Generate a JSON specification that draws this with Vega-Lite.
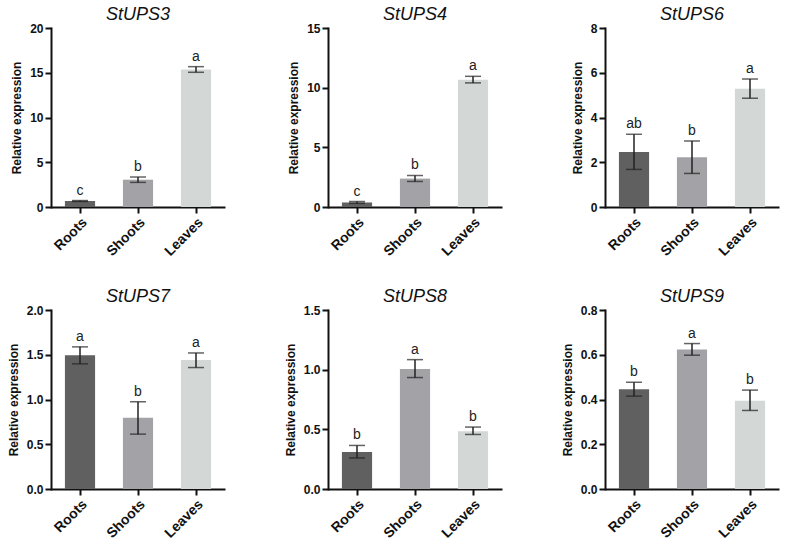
{
  "$schema": "https://vega.github.io/schema/vega-lite/v6.json",
  "background": "white",
  "padding": {"left": 7, "top": 6, "right": 5, "bottom": 5},
  "data": {"values": [
    {"gene": "StUPS3", "tissue": "Roots", "mean": 0.67, "lo": 0.62, "hi": 0.72, "sig": "c"},
    {"gene": "StUPS3", "tissue": "Shoots", "mean": 3.05, "lo": 2.75, "hi": 3.35, "sig": "b"},
    {"gene": "StUPS3", "tissue": "Leaves", "mean": 15.35, "lo": 15.05, "hi": 15.68, "sig": "a"},
    {"gene": "StUPS4", "tissue": "Roots", "mean": 0.38, "lo": 0.31, "hi": 0.46, "sig": "c"},
    {"gene": "StUPS4", "tissue": "Shoots", "mean": 2.38, "lo": 2.14, "hi": 2.64, "sig": "b"},
    {"gene": "StUPS4", "tissue": "Leaves", "mean": 10.67, "lo": 10.4, "hi": 10.95, "sig": "a"},
    {"gene": "StUPS6", "tissue": "Roots", "mean": 2.46, "lo": 1.68, "hi": 3.25, "sig": "ab"},
    {"gene": "StUPS6", "tissue": "Shoots", "mean": 2.22, "lo": 1.5, "hi": 2.95, "sig": "b"},
    {"gene": "StUPS6", "tissue": "Leaves", "mean": 5.29, "lo": 4.86, "hi": 5.72, "sig": "a"},
    {"gene": "StUPS7", "tissue": "Roots", "mean": 1.494, "lo": 1.398, "hi": 1.588, "sig": "a"},
    {"gene": "StUPS7", "tissue": "Shoots", "mean": 0.795, "lo": 0.613, "hi": 0.975, "sig": "b"},
    {"gene": "StUPS7", "tissue": "Leaves", "mean": 1.44, "lo": 1.357, "hi": 1.52, "sig": "a"},
    {"gene": "StUPS8", "tissue": "Roots", "mean": 0.31, "lo": 0.26, "hi": 0.365, "sig": "b"},
    {"gene": "StUPS8", "tissue": "Shoots", "mean": 1.006, "lo": 0.934, "hi": 1.084, "sig": "a"},
    {"gene": "StUPS8", "tissue": "Leaves", "mean": 0.484, "lo": 0.457, "hi": 0.519, "sig": "b"},
    {"gene": "StUPS9", "tissue": "Roots", "mean": 0.446, "lo": 0.415, "hi": 0.477, "sig": "b"},
    {"gene": "StUPS9", "tissue": "Shoots", "mean": 0.623, "lo": 0.598, "hi": 0.65, "sig": "a"},
    {"gene": "StUPS9", "tissue": "Leaves", "mean": 0.394, "lo": 0.351, "hi": 0.442, "sig": "b"}
  ]},
  "columns": 3,
  "spacing": {"column": 103, "row": 103},
  "bounds": "flush",
  "concat": [
    {"title": "StUPS3", "width": 174, "height": 179, "transform": [{"filter": "datum.gene === 'StUPS3'"}],
     "encoding": {"x": {"field": "tissue", "type": "nominal", "sort": ["Roots", "Shoots", "Leaves"], "scale": {"paddingInner": 0.48, "paddingOuter": 0.24}, "axis": {"title": null, "labelAngle": -45}}},
     "layer": [
      {"mark": {"type": "bar"}, "encoding": {"y": {"field": "mean", "type": "quantitative", "scale": {"domain": [0, 20], "nice": false}, "axis": {"title": "Relative expression", "values": [0, 5, 10, 15, 20]}}, "color": {"field": "tissue", "type": "nominal", "scale": {"domain": ["Roots", "Shoots", "Leaves"], "range": ["#606060", "#a3a2a6", "#d3d7d5"]}, "legend": null}}},
      {"mark": {"type": "rule", "color": "#222222", "strokeWidth": 1.5}, "encoding": {"y": {"field": "lo", "type": "quantitative"}, "y2": {"field": "hi"}}},
      {"mark": {"type": "tick", "color": "#222222", "thickness": 1.5, "size": 16}, "encoding": {"y": {"field": "lo", "type": "quantitative"}}},
      {"mark": {"type": "tick", "color": "#222222", "thickness": 1.5, "size": 16}, "encoding": {"y": {"field": "hi", "type": "quantitative"}}},
      {"mark": {"type": "text", "baseline": "bottom", "dy": -3, "fontSize": 14, "font": "Liberation Sans", "fill": "#222222"}, "encoding": {"y": {"field": "hi", "type": "quantitative"}, "text": {"field": "sig"}}}
     ]},
    {"title": "StUPS4", "width": 174, "height": 179, "transform": [{"filter": "datum.gene === 'StUPS4'"}],
     "encoding": {"x": {"field": "tissue", "type": "nominal", "sort": ["Roots", "Shoots", "Leaves"], "scale": {"paddingInner": 0.48, "paddingOuter": 0.24}, "axis": {"title": null, "labelAngle": -45}}},
     "layer": [
      {"mark": {"type": "bar"}, "encoding": {"y": {"field": "mean", "type": "quantitative", "scale": {"domain": [0, 15], "nice": false}, "axis": {"title": "Relative expression", "values": [0, 5, 10, 15]}}, "color": {"field": "tissue", "type": "nominal", "scale": {"domain": ["Roots", "Shoots", "Leaves"], "range": ["#606060", "#a3a2a6", "#d3d7d5"]}, "legend": null}}},
      {"mark": {"type": "rule", "color": "#222222", "strokeWidth": 1.5}, "encoding": {"y": {"field": "lo", "type": "quantitative"}, "y2": {"field": "hi"}}},
      {"mark": {"type": "tick", "color": "#222222", "thickness": 1.5, "size": 16}, "encoding": {"y": {"field": "lo", "type": "quantitative"}}},
      {"mark": {"type": "tick", "color": "#222222", "thickness": 1.5, "size": 16}, "encoding": {"y": {"field": "hi", "type": "quantitative"}}},
      {"mark": {"type": "text", "baseline": "bottom", "dy": -3, "fontSize": 14, "font": "Liberation Sans", "fill": "#222222"}, "encoding": {"y": {"field": "hi", "type": "quantitative"}, "text": {"field": "sig"}}}
     ]},
    {"title": "StUPS6", "width": 174, "height": 179, "transform": [{"filter": "datum.gene === 'StUPS6'"}],
     "encoding": {"x": {"field": "tissue", "type": "nominal", "sort": ["Roots", "Shoots", "Leaves"], "scale": {"paddingInner": 0.48, "paddingOuter": 0.24}, "axis": {"title": null, "labelAngle": -45}}},
     "layer": [
      {"mark": {"type": "bar"}, "encoding": {"y": {"field": "mean", "type": "quantitative", "scale": {"domain": [0, 8], "nice": false}, "axis": {"title": "Relative expression", "values": [0, 2, 4, 6, 8]}}, "color": {"field": "tissue", "type": "nominal", "scale": {"domain": ["Roots", "Shoots", "Leaves"], "range": ["#606060", "#a3a2a6", "#d3d7d5"]}, "legend": null}}},
      {"mark": {"type": "rule", "color": "#222222", "strokeWidth": 1.5}, "encoding": {"y": {"field": "lo", "type": "quantitative"}, "y2": {"field": "hi"}}},
      {"mark": {"type": "tick", "color": "#222222", "thickness": 1.5, "size": 16}, "encoding": {"y": {"field": "lo", "type": "quantitative"}}},
      {"mark": {"type": "tick", "color": "#222222", "thickness": 1.5, "size": 16}, "encoding": {"y": {"field": "hi", "type": "quantitative"}}},
      {"mark": {"type": "text", "baseline": "bottom", "dy": -3, "fontSize": 14, "font": "Liberation Sans", "fill": "#222222"}, "encoding": {"y": {"field": "hi", "type": "quantitative"}, "text": {"field": "sig"}}}
     ]},
    {"title": "StUPS7", "width": 174, "height": 179, "transform": [{"filter": "datum.gene === 'StUPS7'"}],
     "encoding": {"x": {"field": "tissue", "type": "nominal", "sort": ["Roots", "Shoots", "Leaves"], "scale": {"paddingInner": 0.48, "paddingOuter": 0.24}, "axis": {"title": null, "labelAngle": -45}}},
     "layer": [
      {"mark": {"type": "bar"}, "encoding": {"y": {"field": "mean", "type": "quantitative", "scale": {"domain": [0, 2], "nice": false}, "axis": {"title": "Relative expression", "values": [0, 0.5, 1, 1.5, 2], "format": ".1f"}}, "color": {"field": "tissue", "type": "nominal", "scale": {"domain": ["Roots", "Shoots", "Leaves"], "range": ["#606060", "#a3a2a6", "#d3d7d5"]}, "legend": null}}},
      {"mark": {"type": "rule", "color": "#222222", "strokeWidth": 1.5}, "encoding": {"y": {"field": "lo", "type": "quantitative"}, "y2": {"field": "hi"}}},
      {"mark": {"type": "tick", "color": "#222222", "thickness": 1.5, "size": 16}, "encoding": {"y": {"field": "lo", "type": "quantitative"}}},
      {"mark": {"type": "tick", "color": "#222222", "thickness": 1.5, "size": 16}, "encoding": {"y": {"field": "hi", "type": "quantitative"}}},
      {"mark": {"type": "text", "baseline": "bottom", "dy": -3, "fontSize": 14, "font": "Liberation Sans", "fill": "#222222"}, "encoding": {"y": {"field": "hi", "type": "quantitative"}, "text": {"field": "sig"}}}
     ]},
    {"title": "StUPS8", "width": 174, "height": 179, "transform": [{"filter": "datum.gene === 'StUPS8'"}],
     "encoding": {"x": {"field": "tissue", "type": "nominal", "sort": ["Roots", "Shoots", "Leaves"], "scale": {"paddingInner": 0.48, "paddingOuter": 0.24}, "axis": {"title": null, "labelAngle": -45}}},
     "layer": [
      {"mark": {"type": "bar"}, "encoding": {"y": {"field": "mean", "type": "quantitative", "scale": {"domain": [0, 1.5], "nice": false}, "axis": {"title": "Relative expression", "values": [0, 0.5, 1, 1.5], "format": ".1f"}}, "color": {"field": "tissue", "type": "nominal", "scale": {"domain": ["Roots", "Shoots", "Leaves"], "range": ["#606060", "#a3a2a6", "#d3d7d5"]}, "legend": null}}},
      {"mark": {"type": "rule", "color": "#222222", "strokeWidth": 1.5}, "encoding": {"y": {"field": "lo", "type": "quantitative"}, "y2": {"field": "hi"}}},
      {"mark": {"type": "tick", "color": "#222222", "thickness": 1.5, "size": 16}, "encoding": {"y": {"field": "lo", "type": "quantitative"}}},
      {"mark": {"type": "tick", "color": "#222222", "thickness": 1.5, "size": 16}, "encoding": {"y": {"field": "hi", "type": "quantitative"}}},
      {"mark": {"type": "text", "baseline": "bottom", "dy": -3, "fontSize": 14, "font": "Liberation Sans", "fill": "#222222"}, "encoding": {"y": {"field": "hi", "type": "quantitative"}, "text": {"field": "sig"}}}
     ]},
    {"title": "StUPS9", "width": 174, "height": 179, "transform": [{"filter": "datum.gene === 'StUPS9'"}],
     "encoding": {"x": {"field": "tissue", "type": "nominal", "sort": ["Roots", "Shoots", "Leaves"], "scale": {"paddingInner": 0.48, "paddingOuter": 0.24}, "axis": {"title": null, "labelAngle": -45}}},
     "layer": [
      {"mark": {"type": "bar"}, "encoding": {"y": {"field": "mean", "type": "quantitative", "scale": {"domain": [0, 0.8], "nice": false}, "axis": {"title": "Relative expression", "values": [0, 0.2, 0.4, 0.6, 0.8], "format": ".1f"}}, "color": {"field": "tissue", "type": "nominal", "scale": {"domain": ["Roots", "Shoots", "Leaves"], "range": ["#606060", "#a3a2a6", "#d3d7d5"]}, "legend": null}}},
      {"mark": {"type": "rule", "color": "#222222", "strokeWidth": 1.5}, "encoding": {"y": {"field": "lo", "type": "quantitative"}, "y2": {"field": "hi"}}},
      {"mark": {"type": "tick", "color": "#222222", "thickness": 1.5, "size": 16}, "encoding": {"y": {"field": "lo", "type": "quantitative"}}},
      {"mark": {"type": "tick", "color": "#222222", "thickness": 1.5, "size": 16}, "encoding": {"y": {"field": "hi", "type": "quantitative"}}},
      {"mark": {"type": "text", "baseline": "bottom", "dy": -3, "fontSize": 14, "font": "Liberation Sans", "fill": "#222222"}, "encoding": {"y": {"field": "hi", "type": "quantitative"}, "text": {"field": "sig"}}}
     ]}
  ],
  "resolve": {"scale": {"y": "independent", "x": "independent", "color": "shared"}},
  "config": {
    "view": {"stroke": null},
    "font": "Liberation Sans",
    "title": {"font": "Liberation Sans", "fontSize": 18, "fontStyle": "italic", "fontWeight": "normal", "color": "#111111", "offset": -2, "anchor": "middle"},
    "axis": {"grid": false, "domainColor": "#111111", "domainWidth": 2, "tickColor": "#111111", "tickWidth": 2, "tickSize": 6, "labelFont": "Liberation Sans", "labelFontSize": 12, "labelFontWeight": "bold", "labelColor": "#111111", "titleFont": "Liberation Sans", "titleFontSize": 12, "titleFontWeight": "bold", "titleColor": "#111111", "labelPadding": 2, "titlePadding": 6},
    "axisX": {"labelFontSize": 14},
    "axisY": {"domainCap": "square"}
  }
}
